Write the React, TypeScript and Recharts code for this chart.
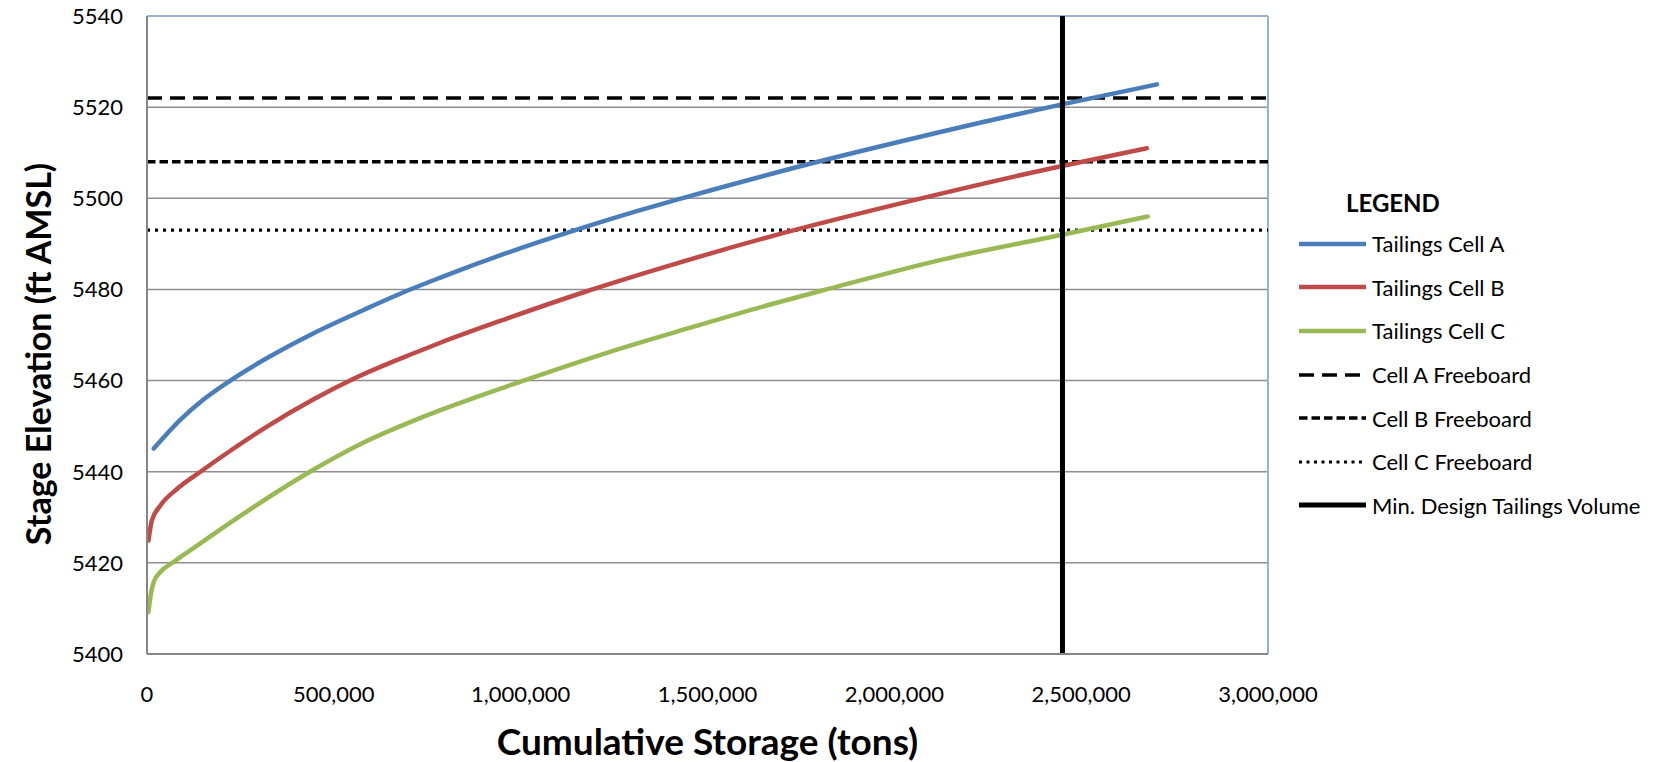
import React from "react";
import {
  LineChart,
  Line,
  XAxis,
  YAxis,
  CartesianGrid,
  ReferenceLine,
  Label,
} from "recharts";

// cumulative storage (tons) vs stage elevation (ft AMSL)
const storageA = [18000, 89000, 152000, 232000, 312000, 446000, 580000, 696000, 785000, 963000, 1142000, 1320000, 1436000, 1790000, 2039000, 2449000, 2703000];
const elevA = [5445.1, 5451.4, 5455.9, 5460.5, 5464.5, 5470.4, 5475.5, 5479.7, 5482.6, 5488.0, 5492.9, 5497.4, 5500.1, 5507.9, 5512.9, 5520.6, 5525.0];

const storageB = [4000, 13000, 36000, 80000, 143000, 223000, 321000, 446000, 553000, 714000, 785000, 963000, 1177000, 1409000, 1668000, 2058000, 2449000, 2676000];
const elevB = [5424.9, 5429.3, 5432.6, 5436.2, 5440.0, 5444.6, 5449.9, 5455.9, 5460.4, 5466.0, 5468.3, 5473.6, 5479.6, 5485.5, 5491.6, 5499.7, 5507.1, 5511.0];

const storageC = [4000, 10000, 18000, 36000, 71000, 134000, 268000, 428000, 580000, 714000, 785000, 1008000, 1231000, 1454000, 1668000, 1818000, 2131000, 2449000, 2678000];
const elevC = [5409.2, 5413.0, 5415.8, 5418.0, 5420.2, 5423.8, 5431.3, 5439.6, 5446.4, 5451.2, 5453.5, 5460.0, 5466.1, 5471.6, 5476.7, 5480.0, 5486.6, 5492.0, 5496.0];

const freeboardA = 5522;
const freeboardB = 5508;
const freeboardC = 5493;
const minDesignVolume = 2450000;

const xTicks = [0, 500000, 1000000, 1500000, 2000000, 2500000, 3000000];
const yTicks = [5400, 5420, 5440, 5460, 5480, 5500, 5520, 5540];

const legendItems = [
  { name: "Tailings Cell A", color: "#4A7EBB", width: 4.5, dash: "" },
  { name: "Tailings Cell B", color: "#BE4B48", width: 4.5, dash: "" },
  { name: "Tailings Cell C", color: "#98B954", width: 4.5, dash: "" },
  { name: "Cell A Freeboard", color: "#000", width: 3.5, dash: "15 8" },
  { name: "Cell B Freeboard", color: "#000", width: 3.5, dash: "8.5 4" },
  { name: "Cell C Freeboard", color: "#000", width: 3, dash: "3 4.5" },
  { name: "Min. Design Tailings Volume", color: "#000", width: 5, dash: "" },
];

const toPoints = (s: number[], e: number[]) =>
  s.map((v, i) => ({ storage: v, elevation: e[i] }));

const cellA = toPoints(storageA, elevA);
const cellB = toPoints(storageB, elevB);
const cellC = toPoints(storageC, elevC);

const FONT = "Lato, 'Open Sans', sans-serif";
const tickStyle = { fill: "#000", fontSize: 22, fontFamily: FONT };

function YTitle(props: any) {
  const vb = props.viewBox || { y: 16, height: 638 };
  const cx = 37;
  const cy = vb.y + vb.height / 2 + 19;
  return (
    <text
      x={cx}
      y={cy}
      transform={`rotate(-90 ${cx} ${cy})`}
      textAnchor="middle"
      dominantBaseline="central"
      style={{ fontFamily: FONT, fontWeight: 700, fontSize: 34, fill: "#000" }}
    >
      Stage Elevation (ft AMSL)
    </text>
  );
}

function XTitle(props: any) {
  const vb = props.viewBox || { x: 147, width: 1121 };
  return (
    <text
      x={vb.x + vb.width / 2}
      y={740}
      textAnchor="middle"
      dominantBaseline="central"
      style={{ fontFamily: FONT, fontWeight: 700, fontSize: 37, fill: "#000" }}
    >
      Cumulative Storage (tons)
    </text>
  );
}

function ChartLegend() {
  return (
    <div style={{ position: "absolute", left: 1299, top: 188, fontFamily: FONT, color: "#000" }}>
      <div style={{ marginLeft: 47, fontWeight: 700, fontSize: 24, height: 34, lineHeight: "30px" }}>
        LEGEND
      </div>
      {legendItems.map((item) => (
        <div key={item.name} style={{ display: "flex", alignItems: "center", height: 43.6 }}>
          <svg width={67} height={10} style={{ marginRight: 6 }}>
            <line
              x1={0}
              y1={5}
              x2={67}
              y2={5}
              stroke={item.color}
              strokeWidth={item.width}
              strokeDasharray={item.dash || undefined}
              strokeLinecap={item.dash ? "butt" : "round"}
            />
          </svg>
          <span style={{ fontSize: 22, whiteSpace: "nowrap" }}>{item.name}</span>
        </div>
      ))}
    </div>
  );
}

export default function App() {
  return (
    <div style={{ position: "absolute", left: 0, top: 0, width: 1676, height: 762, background: "#fff" }}>
      <LineChart width={1676} height={762} margin={{ top: 16, right: 408, bottom: 0, left: 0 }}>
        <CartesianGrid vertical={false} stroke="#8E8E8E" strokeWidth={1.5} />
        <XAxis
          type="number"
          dataKey="storage"
          domain={[0, 3000000]}
          ticks={xTicks}
          tickFormatter={(v: number) => v.toLocaleString("en-US")}
          tick={tickStyle}
          tickLine={false}
          tickSize={0}
          tickMargin={32}
          height={108}
          axisLine={{ stroke: "#868686", strokeWidth: 2 }}
          allowDataOverflow
        >
          <Label content={<XTitle />} />
        </XAxis>
        <YAxis
          type="number"
          dataKey="elevation"
          domain={[5400, 5540]}
          ticks={yTicks}
          tick={tickStyle}
          tickLine={false}
          tickSize={0}
          tickMargin={24}
          width={147}
          axisLine={{ stroke: "#868686", strokeWidth: 2 }}
          allowDataOverflow
        >
          <Label content={<YTitle />} />
        </YAxis>
        <ReferenceLine y={5540} stroke="#95B3D7" strokeWidth={2} />
        <ReferenceLine x={3000000} stroke="#95B3D7" strokeWidth={2} />
        <ReferenceLine y={freeboardA} stroke="#000" strokeWidth={3.5} strokeDasharray="15 8" />
        <ReferenceLine y={freeboardB} stroke="#000" strokeWidth={3.5} strokeDasharray="8.5 4" />
        <ReferenceLine y={freeboardC} stroke="#000" strokeWidth={3.2} strokeDasharray="3 5" />
        <Line data={cellA} type="monotone" dataKey="elevation" name="Tailings Cell A" stroke="#4A7EBB" strokeWidth={4.5} strokeLinecap="round" dot={false} activeDot={false} isAnimationActive={false} />
        <Line data={cellB} type="monotone" dataKey="elevation" name="Tailings Cell B" stroke="#BE4B48" strokeWidth={4.5} strokeLinecap="round" dot={false} activeDot={false} isAnimationActive={false} />
        <Line data={cellC} type="monotone" dataKey="elevation" name="Tailings Cell C" stroke="#98B954" strokeWidth={4.5} strokeLinecap="round" dot={false} activeDot={false} isAnimationActive={false} />
        <ReferenceLine x={minDesignVolume} stroke="#000" strokeWidth={5} />
      </LineChart>
      <ChartLegend />
    </div>
  );
}
